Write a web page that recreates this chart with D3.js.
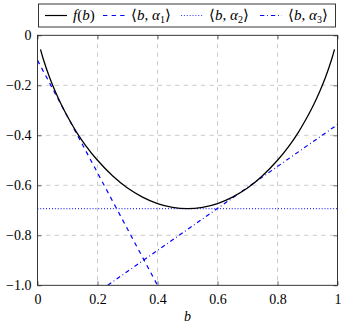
<!DOCTYPE html>
<html><head><meta charset="utf-8">
<script src="https://cdn.jsdelivr.net/npm/d3@7"></script>
</head>
<body style="margin:0"><svg id="c" width="342" height="324"></svg>
<script>
const fB = [0.01,0.02,0.04,0.06,0.08,0.1,0.13,0.16,0.2,0.25,0.3,0.35,0.4,0.45,0.5,0.55,0.6,0.65,0.7,0.75,0.8,0.84,0.87,0.9,0.92,0.94,0.96,0.98,0.99];
const fV = [-0.056,-0.098,-0.168,-0.227,-0.279,-0.325,-0.387,-0.440,-0.500,-0.562,-0.611,-0.647,-0.673,-0.688,-0.693,-0.688,-0.673,-0.647,-0.611,-0.562,-0.500,-0.440,-0.387,-0.325,-0.279,-0.227,-0.168,-0.098,-0.056];
// tangent lines (endpoints)
const a1B = [0, 0.4], a1V = [-0.1, -1.0];
const a2B = [0, 1], a2V = [-0.693, -0.693];
const a3B = [0.234, 1], a3V = [-1.0, -0.357];
const xTicks = [0, 0.2, 0.4, 0.6, 0.8, 1];
const yTicks = [0, -0.2, -0.4, -0.6, -0.8, -1];

const FONT = "Liberation Serif";
const svg = d3.select("#c");
const L = 37.5, R = 337.5, T = 35.3, B = 285.3;
const x = d3.scaleLinear().domain([0,1]).range([L,R]);
const y = d3.scaleLinear().domain([-1,0]).range([B,T]);
const fmt = v => (v===0?"0":(v===1?"1":d3.format(".1f")(v))).replace("-","\u2212");

// grid
svg.selectAll(".gx").data(xTicks.slice(1,-1)).join("line").attr("class","gx")
  .attr("x1",d=>x(d)).attr("x2",d=>x(d)).attr("y1",T).attr("y2",B)
  .attr("stroke","#bdbdbd").attr("stroke-width",0.8).attr("stroke-dasharray","4.3,4.3");
svg.selectAll(".gy").data(yTicks.slice(1,-1)).join("line").attr("class","gy")
  .attr("y1",d=>y(d)).attr("y2",d=>y(d)).attr("x1",L).attr("x2",R)
  .attr("stroke","#bdbdbd").attr("stroke-width",0.8).attr("stroke-dasharray","4.3,4.3");

// axes
const xa = svg.append("g").attr("transform",`translate(0,${B})`)
  .call(d3.axisBottom(x).tickValues(xTicks).tickFormat(fmt).tickSizeInner(-4).tickSizeOuter(0).tickPadding(9));
const xt = svg.append("g").attr("transform",`translate(0,${T})`)
  .call(d3.axisTop(x).tickValues(xTicks).tickFormat("").tickSizeInner(-4).tickSizeOuter(0));
const ya = svg.append("g").attr("transform",`translate(${L},0)`)
  .call(d3.axisLeft(y).tickValues(yTicks).tickFormat(fmt).tickSizeInner(-4).tickSizeOuter(0).tickPadding(6));
const yr = svg.append("g").attr("transform",`translate(${R},0)`)
  .call(d3.axisRight(y).tickValues(yTicks).tickFormat("").tickSizeInner(-4).tickSizeOuter(0));
[xa,xt,ya,yr].forEach(a=>{
  a.attr("font-family",FONT).attr("font-size",14);
  a.select(".domain").remove();
  a.selectAll("line").attr("stroke","#444").attr("stroke-width",0.8);
  a.selectAll("text").attr("fill","#000").attr("font-family",FONT);
});

// clip
svg.append("clipPath").attr("id","clip").append("rect").attr("x",L).attr("y",T).attr("width",R-L).attr("height",B-T);
const pl = svg.append("g").attr("clip-path","url(#clip)");
const line = d3.line().x(d=>x(d[0])).y(d=>y(d[1]));
const curve = d3.line().x(d=>x(d[0])).y(d=>y(d[1])).curve(d3.curveCatmullRom);
const zip = (a,b)=>a.map((v,i)=>[v,b[i]]);

pl.append("path").datum(zip(a1B,a1V)).attr("d",line).attr("fill","none").attr("stroke","#0000ff").attr("stroke-width",1.2).attr("stroke-dasharray","4.3,4.3");
pl.append("path").datum(zip(a2B,a2V)).attr("d",line).attr("fill","none").attr("stroke","#0000ff").attr("stroke-width",1.2).attr("stroke-dasharray","0.8,2.1");
pl.append("path").datum(zip(a3B,a3V)).attr("d",line).attr("fill","none").attr("stroke","#0000ff").attr("stroke-width",1.2).attr("stroke-dasharray","4.3,2.9,0.8,2.9");
pl.append("path").datum(zip(fB,fV)).attr("d",curve).attr("fill","none").attr("stroke","#000").attr("stroke-width",1.3);

// frame
svg.append("rect").attr("x",L).attr("y",T).attr("width",R-L).attr("height",B-T).attr("fill","none").attr("stroke","#222").attr("stroke-width",0.9);

// x label
svg.append("text").attr("x",(L+R)/2).attr("y",321).attr("text-anchor","middle").attr("font-size",14).attr("font-style","italic").attr("font-family",FONT).text("b");

// legend
const lg = svg.append("g").attr("font-family",FONT);
lg.append("rect").attr("x",38.5).attr("y",4).attr("width",297).attr("height",23).attr("fill","#fff").attr("stroke","#222").attr("stroke-width",0.9);
const items = [
  {x0:45, dash:null, col:"#000", sub:null},
  {x0:103, dash:"4.3,4.3", col:"#0000ff", sub:"1"},
  {x0:181, dash:"0.8,2.1", col:"#0000ff", sub:"2"},
  {x0:260, dash:"4.3,2.9,0.8,2.9", col:"#0000ff", sub:"3"}
];
items.forEach(it=>{
  const ln = lg.append("line").attr("x1",it.x0).attr("x2",it.x0+22).attr("y1",15.5).attr("y2",15.5)
    .attr("stroke",it.col).attr("stroke-width",1.2);
  if(it.dash) ln.attr("stroke-dasharray",it.dash);
  const t = lg.append("text").attr("x",it.x0+28).attr("y",20).attr("font-size",15).attr("font-family",FONT);
  if(!it.sub){
    t.append("tspan").attr("font-style","italic").text("f");
    t.append("tspan").text("(");
    t.append("tspan").attr("font-style","italic").text("b");
    t.append("tspan").text(")");
  } else {
    t.append("tspan").text("\u27E8");
    t.append("tspan").attr("font-style","italic").text("b");
    t.append("tspan").text(", ");
    t.append("tspan").attr("font-style","italic").text("\u03B1");
    t.append("tspan").attr("font-size",10).attr("dy",3).text(it.sub);
    t.append("tspan").attr("dy",-3).text("\u27E9");
  }
});
</script></body></html>
